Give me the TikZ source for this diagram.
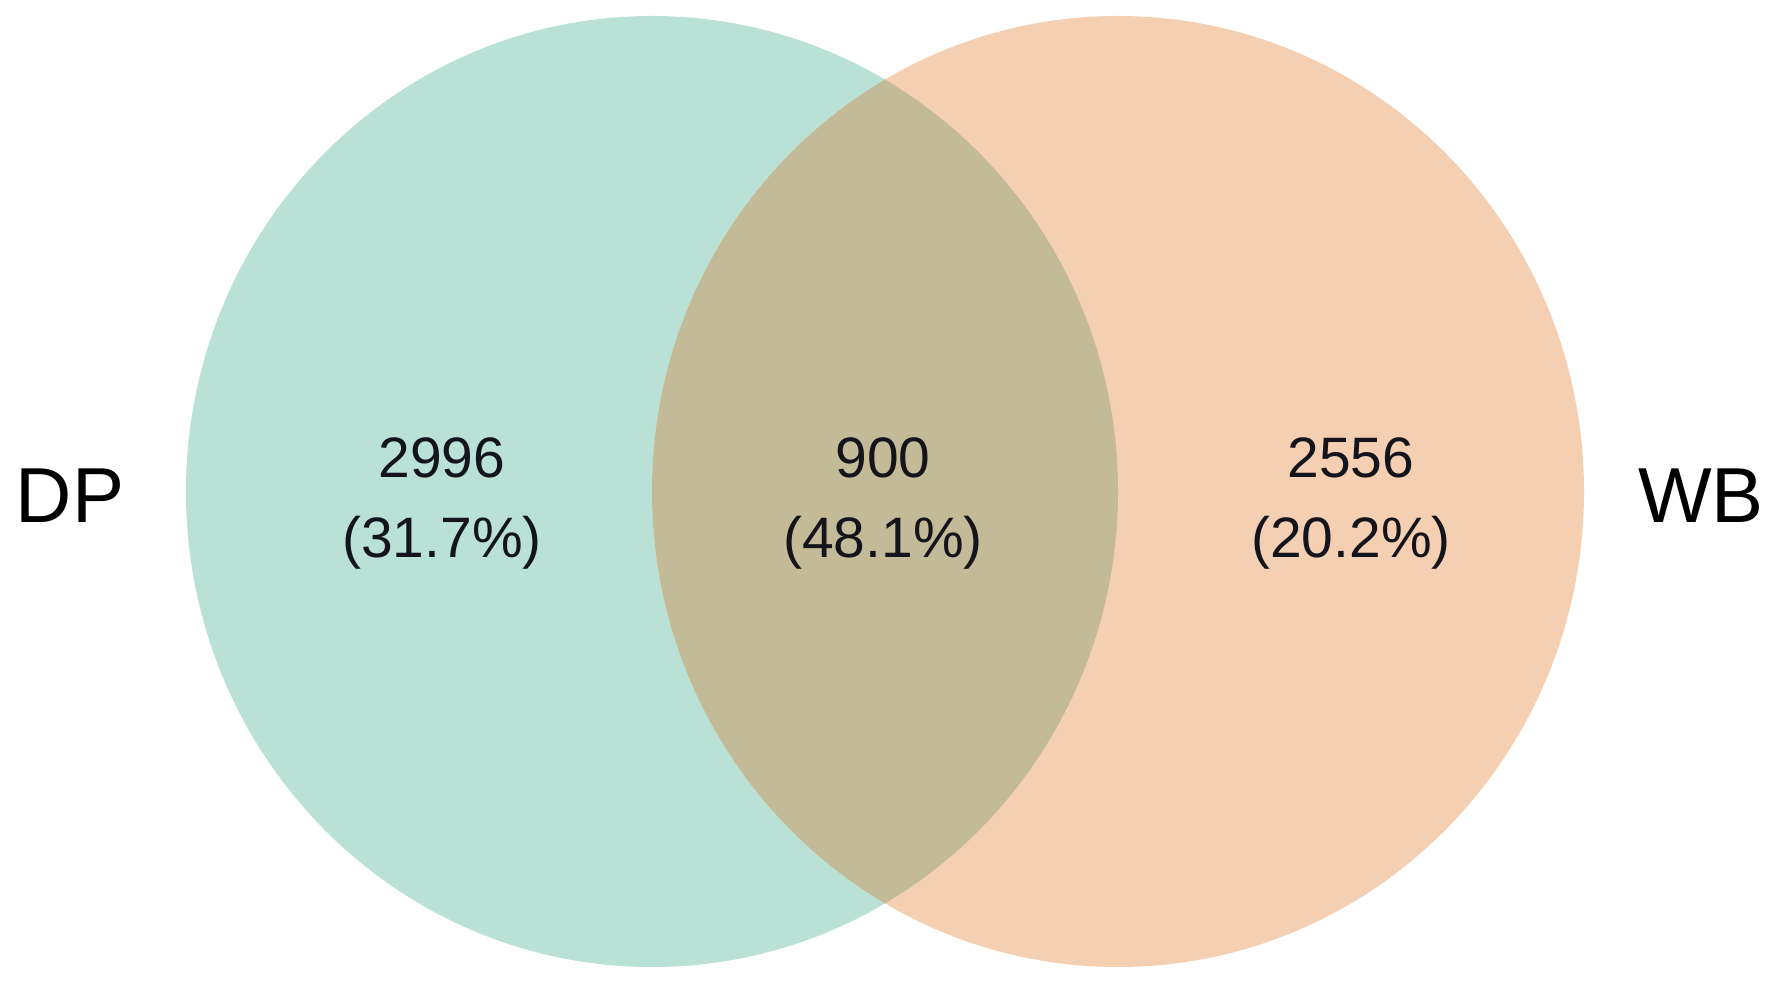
\documentclass[tikz,border=0pt]{standalone}
\usepackage{fontspec}
\setmainfont{Liberation Sans}
\definecolor{dpcol}{RGB}{185,225,214}
\definecolor{wbcol}{RGB}{245,207,178}
\definecolor{bothcol}{RGB}{195,187,152}
\definecolor{txtcol}{RGB}{20,20,28}
\tikzset{
  num/.style={anchor=base, inner sep=0pt, text=txtcol, font=\fontsize{57}{62}\selectfont},
  setlabel/.style={anchor=base, inner sep=0pt, text=black, font=\fontsize{78}{84}\selectfont}
}
\begin{document}
\begin{tikzpicture}[x=1pt,y=1pt]
\useasboundingbox (0,0) rectangle (1780,985);
\fill[white] (0,0) rectangle (1780,985);
% circles (image y flipped: Y = 985 - y)
\fill[dpcol] (652,493.5) ellipse [x radius=466, y radius=475.5];
\fill[wbcol] (1118,493.5) ellipse [x radius=466, y radius=475.5];
\begin{scope}
  \clip (652,493.5) ellipse [x radius=466, y radius=475.5];
  \fill[bothcol] (1118,493.5) ellipse [x radius=466, y radius=475.5];
\end{scope}
% labels
\node[setlabel] (dp) at (70,462) {DP};
\node[setlabel] (wb) at (1701,462) {WB};
\node[num] (n1) at (442,507) {2996};
\node[num] (p1) at (442,427) {(31.7\%)};
\node[num] (n2) at (883,507) {900};
\node[num] (p2) at (883,427) {(48.1\%)};
\node[num] (n3) at (1351,507) {2556};
\node[num] (p3) at (1351,427) {(20.2\%)};
\end{tikzpicture}
\end{document}
